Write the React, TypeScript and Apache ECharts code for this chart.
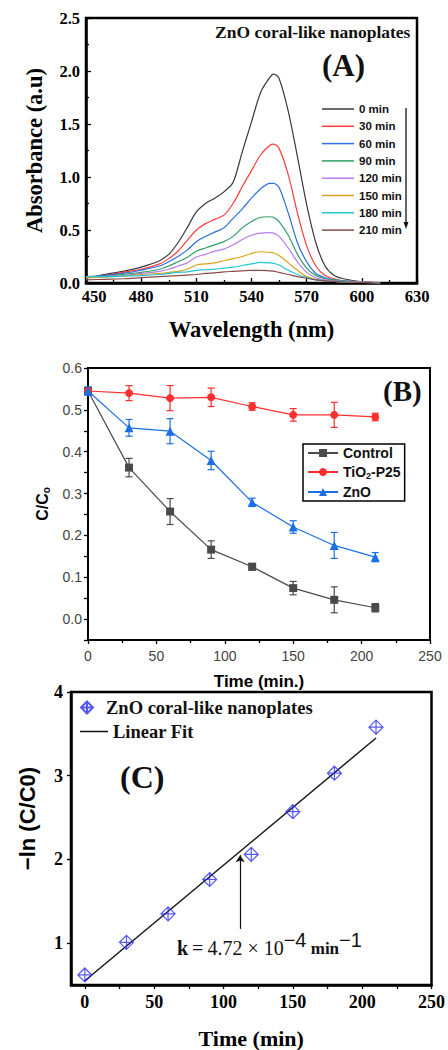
import React, { useEffect, useRef } from "react";
import * as echarts from "echarts";

// ---------- Panel A: UV-vis spectra ----------
const WAVELENGTH = [450, 460, 470, 480, 490, 495, 500, 505, 510, 515, 520, 525, 530, 535, 540, 545, 550, 552, 555, 560, 565, 570, 575, 580, 585, 590, 600, 610];
const ABS_0 = [0.045, 0.08, 0.11, 0.15, 0.21, 0.27, 0.38, 0.52, 0.67, 0.75, 0.8, 0.86, 0.95, 1.24, 1.52, 1.8, 1.94, 1.97, 1.93, 1.62, 1.19, 0.74, 0.38, 0.16, 0.07, 0.04, 0.01, 0.0];
const ABS_30 = [0.05, 0.07, 0.1, 0.13, 0.18, 0.23, 0.3, 0.4, 0.5, 0.56, 0.6, 0.64, 0.75, 0.91, 1.06, 1.21, 1.3, 1.31, 1.27, 1.02, 0.66, 0.35, 0.16, 0.07, 0.04, 0.02, 0.01, 0.0];
const ABS_60 = [0.06, 0.07, 0.09, 0.12, 0.16, 0.2, 0.25, 0.31, 0.39, 0.44, 0.48, 0.52, 0.61, 0.7, 0.8, 0.89, 0.94, 0.94, 0.9, 0.66, 0.38, 0.2, 0.09, 0.05, 0.03, 0.02, 0.01, 0.0];
const ABS_90 = [0.05, 0.06, 0.08, 0.1, 0.13, 0.16, 0.2, 0.24, 0.3, 0.33, 0.36, 0.39, 0.44, 0.52, 0.58, 0.62, 0.625, 0.62, 0.58, 0.45, 0.27, 0.14, 0.07, 0.04, 0.03, 0.02, 0.01, 0.0];
const ABS_120 = [0.05, 0.06, 0.07, 0.09, 0.11, 0.13, 0.16, 0.19, 0.245, 0.27, 0.3, 0.32, 0.36, 0.41, 0.45, 0.47, 0.475, 0.47, 0.44, 0.33, 0.2, 0.1, 0.05, 0.03, 0.02, 0.015, 0.01, 0.0];
const ABS_150 = [0.05, 0.055, 0.065, 0.08, 0.09, 0.1, 0.11, 0.13, 0.17, 0.18, 0.19, 0.21, 0.23, 0.25, 0.28, 0.295, 0.29, 0.285, 0.26, 0.19, 0.12, 0.06, 0.035, 0.02, 0.015, 0.01, 0.005, 0.0];
const ABS_180 = [0.06, 0.06, 0.065, 0.07, 0.08, 0.09, 0.1, 0.105, 0.12, 0.125, 0.13, 0.14, 0.15, 0.165, 0.18, 0.195, 0.19, 0.185, 0.17, 0.12, 0.08, 0.05, 0.03, 0.02, 0.015, 0.01, 0.005, 0.0];
const ABS_210 = [0.03, 0.035, 0.04, 0.05, 0.06, 0.065, 0.07, 0.075, 0.08, 0.09, 0.095, 0.105, 0.11, 0.115, 0.12, 0.12, 0.115, 0.112, 0.1, 0.08, 0.06, 0.045, 0.03, 0.02, 0.015, 0.01, 0.005, 0.0];
const SPECTRA_NAMES = ["0 min", "30 min", "60 min", "90 min", "120 min", "150 min", "180 min", "210 min"];
const SPECTRA_COLORS = ["#3a3a3a", "#ff3b3b", "#2c6fe0", "#2f9e62", "#b77df0", "#d9a21a", "#22c6d8", "#8b4a4a"];

// ---------- Panel B: C/C0 vs time ----------
const TIME_B = [0, 30, 60, 90, 120, 150, 180, 210];
const CONTROL = [0.545, 0.362, 0.257, 0.166, 0.125, 0.074, 0.046, 0.027];
const CONTROL_ERR = [0, 0.022, 0.031, 0.021, 0.008, 0.016, 0.031, 0.01];
const TIO2 = [0.545, 0.54, 0.528, 0.53, 0.508, 0.488, 0.488, 0.483];
const TIO2_ERR = [0, 0.018, 0.03, 0.022, 0.009, 0.015, 0.03, 0.009];
const ZNO = [0.545, 0.457, 0.449, 0.379, 0.279, 0.22, 0.176, 0.148];
const ZNO_ERR = [0.01, 0.02, 0.03, 0.022, 0.01, 0.015, 0.031, 0.011];
const B_Y_LABELS = [0, 0.1, 0.2, 0.3, 0.4, 0.5, 0.6];
const B_Y_TICKS = [-0.05, 0, 0.05, 0.1, 0.15, 0.2, 0.25, 0.3, 0.35, 0.4, 0.45, 0.5, 0.55, 0.6];

// ---------- Panel C: -ln(C/C0) vs time ----------
const TIME_C = [0, 30, 60, 90, 120, 150, 180, 210];
const LN_C = [0.62, 1.01, 1.35, 1.76, 2.06, 2.57, 3.03, 3.58];
const FIT_X = [0, 210];
const FIT_Y = [0.55, 3.45];
const ARROW_X = 112;
const ARROW_Y = [1.17, 2.05];
const C_X_LABELS = [0, 50, 100, 150, 200, 250];
const C_X_TICKS = [0, 25, 50, 75, 100, 125, 150, 175, 200, 225, 250];
const C_Y_LABELS = [1, 2, 3, 4];

const SERIF = "'Liberation Serif', 'Times New Roman', serif";
const SANS = "'Liberation Sans', Arial, sans-serif";
const DIAMOND_CROSS = "path://M0,-10L10,0L0,10L-10,0Z M0,-10L0,10 M-10,0L10,0";

function errorBars(name: string, xs: number[], ys: number[], errs: number[], color: string) {
  return {
    type: "custom",
    name,
    xAxisIndex: 1,
    yAxisIndex: 1,
    z: 3,
    silent: true,
    data: xs.map((x, i) => [x, ys[i], errs[i]]),
    encode: { x: 0, y: 1 },
    renderItem: (_p: any, api: any) => {
      const x = api.value(0);
      const y = api.value(1);
      const e = api.value(2);
      if (!e) return { type: "group", children: [] };
      const t = api.coord([x, y + e]);
      const b = api.coord([x, y - e]);
      const w = 3.5;
      const st = { stroke: color, lineWidth: 1.2 };
      return {
        type: "group",
        children: [
          { type: "line", shape: { x1: t[0], y1: t[1], x2: b[0], y2: b[1] }, style: st },
          { type: "line", shape: { x1: t[0] - w, y1: t[1], x2: t[0] + w, y2: t[1] }, style: st },
          { type: "line", shape: { x1: b[0] - w, y1: b[1], x2: b[0] + w, y2: b[1] }, style: st },
        ],
      };
    },
  };
}

function buildOption() {
  const spectra = [ABS_0, ABS_30, ABS_60, ABS_90, ABS_120, ABS_150, ABS_180, ABS_210];
  const tickStyle = { color: "#000", width: 1.3 };
  const aLabelFont = { fontFamily: SERIF, fontWeight: "bold", fontSize: 16.5, color: "#000" };

  const seriesA = spectra.map((arr, k) => ({
    type: "line",
    name: SPECTRA_NAMES[k],
    xAxisIndex: 0,
    yAxisIndex: 0,
    smooth: 0.3,
    symbol: "none",
    showSymbol: false,
    lineStyle: { color: SPECTRA_COLORS[k], width: 1.2 },
    itemStyle: { color: SPECTRA_COLORS[k] },
    data: WAVELENGTH.map((w, i) => [w, arr[i]]),
  }));

  const bLine = (name: string, ys: number[], color: string, symbol: string, size: number) => ({
    type: "line",
    name,
    xAxisIndex: 1,
    yAxisIndex: 1,
    z: 4,
    symbol,
    symbolSize: size,
    lineStyle: { color, width: 1.2 },
    itemStyle: { color },
    data: TIME_B.map((t, i) => [t, ys[i]]),
  });

  return {
    animation: false,
    backgroundColor: "#fff",
    grid: [
      { left: 86, right: 31, top: 18, height: 265, show: true, borderColor: "#000", borderWidth: 2.5, backgroundColor: "transparent" },
      { left: 88, right: 18, top: 368, height: 272, show: true, borderColor: "#000", borderWidth: 2, backgroundColor: "transparent" },
      { left: 71, right: 15, top: 692, height: 295, show: true, borderColor: "#000", borderWidth: 2.5, backgroundColor: "transparent" },
    ],
    xAxis: [
      {
        type: "value", gridIndex: 0, min: 450, max: 630, interval: 30,
        axisLine: { show: true, onZero: false, lineStyle: { color: "#000", width: 2.5 } },
        axisTick: { show: true, inside: true, length: 5, lineStyle: tickStyle },
        minorTick: { show: true, splitNumber: 2, length: 3, lineStyle: tickStyle },
        splitLine: { show: false },
        axisLabel: {
          ...aLabelFont,
          margin: 5,
          formatter: (v: number) => (v === 450 ? "{first|" + v + "}" : "{reg|" + v + "}"),
          rich: {
            first: { ...aLabelFont, padding: [0, 0, 0, 16] },
            reg: { ...aLabelFont },
          },
        },
        name: "Wavelength (nm)", nameLocation: "middle", nameGap: 35,
        nameTextStyle: { fontFamily: SERIF, fontWeight: "bold", fontSize: 22.5, color: "#000" },
      },
      {
        type: "value", gridIndex: 1, min: 0, max: 250, interval: 50,
        axisLine: { show: true, onZero: false, lineStyle: { color: "#000", width: 2 } },
        axisTick: { show: true, inside: false, length: 4, lineStyle: tickStyle },
        minorTick: { show: true, splitNumber: 2, length: 3, lineStyle: tickStyle },
        splitLine: { show: false },
        axisLabel: { fontFamily: SANS, fontSize: 14, color: "#444", margin: 9 },
        name: "Time (min.)", nameLocation: "middle", nameGap: 33,
        nameTextStyle: { fontFamily: SANS, fontWeight: "bold", fontSize: 17, color: "#000" },
      },
      {
        type: "value", gridIndex: 2, min: -10, max: 250,
        axisLine: { show: true, onZero: false, lineStyle: { color: "#000", width: 2.5 } },
        axisTick: { show: true, inside: false, length: 4, lineStyle: tickStyle, customValues: C_X_TICKS },
        splitLine: { show: false },
        axisLabel: { fontFamily: SERIF, fontWeight: "bold", fontSize: 18, color: "#000", margin: 8, customValues: C_X_LABELS },
        name: "Time (min)", nameLocation: "middle", nameGap: 42,
        nameTextStyle: { fontFamily: SERIF, fontWeight: "bold", fontSize: 22, color: "#000" },
      },
    ],
    yAxis: [
      {
        type: "value", gridIndex: 0, min: 0, max: 2.5, interval: 0.5,
        axisLine: { show: true, onZero: false, lineStyle: { color: "#000", width: 2.5 } },
        axisTick: { show: true, inside: true, length: 5, lineStyle: tickStyle },
        minorTick: { show: true, splitNumber: 2, length: 3, lineStyle: tickStyle },
        splitLine: { show: false },
        axisLabel: { ...aLabelFont, margin: 6, formatter: (v: number) => v.toFixed(1) },
        name: "Absorbance (a.u)", nameLocation: "middle", nameGap: 40, nameRotate: 90,
        nameTextStyle: { fontFamily: SERIF, fontWeight: "bold", fontSize: 22.5, color: "#000" },
      },
      {
        type: "value", gridIndex: 1, min: -0.05, max: 0.6,
        axisLine: { show: true, onZero: false, lineStyle: { color: "#000", width: 2 } },
        axisTick: { show: true, inside: false, length: 4, lineStyle: tickStyle, customValues: B_Y_TICKS },
        splitLine: { show: false },
        axisLabel: { fontFamily: SANS, fontSize: 14, color: "#444", margin: 6, customValues: B_Y_LABELS, formatter: (v: number) => v.toFixed(1) },
        name: "{a|C/C}{s|o}", nameLocation: "middle", nameGap: 35, nameRotate: 90,
        nameTextStyle: {
          rich: {
            a: { fontFamily: SANS, fontWeight: "bold", fontSize: 16, color: "#000" },
            s: { fontFamily: SANS, fontWeight: "bold", fontSize: 10, color: "#000", padding: [8, 0, 0, 0] },
          },
        },
      },
      {
        type: "value", gridIndex: 2, min: 0.5, max: 4,
        axisLine: { show: true, onZero: false, lineStyle: { color: "#000", width: 2.5 } },
        axisTick: { show: true, inside: false, length: 4, lineStyle: tickStyle, customValues: C_Y_LABELS },
        splitLine: { show: false },
        axisLabel: { fontFamily: SERIF, fontWeight: "bold", fontSize: 18, color: "#000", margin: 8, customValues: C_Y_LABELS },
        name: "\u2212ln (C/C0)", nameLocation: "middle", nameGap: 33, nameRotate: 90,
        nameTextStyle: { fontFamily: SANS, fontWeight: "bold", fontSize: 22, color: "#000", padding: [0, 0, 0, 40] },
      },
    ],
    legend: [
      {
        data: SPECTRA_NAMES,
        orient: "vertical",
        left: 322,
        top: 103,
        icon: "rect",
        itemWidth: 32,
        itemHeight: 1.5,
        itemGap: 5.3,
        padding: 0,
        textStyle: { fontFamily: SANS, fontWeight: "bold", fontSize: 11.5, color: "#111" },
      },
      {
        data: ["Control", "TiO2-P25", "ZnO"],
        orient: "vertical",
        left: 303,
        top: 444,
        itemWidth: 30,
        itemHeight: 10,
        itemGap: 5,
        padding: [2, 4, 2, 4],
        borderColor: "#000",
        borderWidth: 1.5,
        backgroundColor: "#fff",
        formatter: (name: string) => (name === "TiO2-P25" ? "{t|TiO}{s|2}{t|-P25}" : "{t|" + name + "}"),
        textStyle: {
          rich: {
            t: { fontFamily: SANS, fontWeight: "bold", fontSize: 14, color: "#111", lineHeight: 15 },
            s: { fontFamily: SANS, fontWeight: "bold", fontSize: 9, color: "#111", padding: [7, 0, 0, 0] },
          },
        },
      },
      {
        data: ["ZnO coral-like nanoplates"],
        orient: "vertical",
        left: 80,
        top: 698,
        itemWidth: 28,
        itemHeight: 12,
        padding: 0,
        textStyle: { fontFamily: SERIF, fontWeight: "bold", fontSize: 18.5, color: "#111" },
      },
      {
        data: ["Linear Fit"],
        orient: "vertical",
        left: 80,
        top: 722,
        icon: "rect",
        itemWidth: 28,
        itemHeight: 1.5,
        padding: 0,
        textStyle: { fontFamily: SERIF, fontWeight: "bold", fontSize: 18.5, color: "#111" },
      },
    ],
    series: [
      ...seriesA,
      errorBars("Control err", TIME_B, CONTROL, CONTROL_ERR, "#4a4a4a"),
      errorBars("TiO2 err", TIME_B, TIO2, TIO2_ERR, "#ff2f2f"),
      errorBars("ZnO err", TIME_B, ZNO, ZNO_ERR, "#1b6fe6"),
      bLine("Control", CONTROL, "#4a4a4a", "rect", 8),
      bLine("TiO2-P25", TIO2, "#ff2f2f", "circle", 8),
      bLine("ZnO", ZNO, "#1b6fe6", "triangle", 9),
      {
        type: "line",
        name: "Linear Fit",
        xAxisIndex: 2,
        yAxisIndex: 2,
        symbol: "none",
        showSymbol: false,
        lineStyle: { color: "#111", width: 1.4 },
        itemStyle: { color: "#111" },
        data: FIT_X.map((x, i) => [x, FIT_Y[i]]),
        markLine: {
          silent: true,
          symbol: ["none", "arrow"],
          symbolSize: 7,
          label: { show: false },
          lineStyle: { color: "#111", width: 1.2, type: "solid" },
          data: [[{ coord: [ARROW_X, ARROW_Y[0]] }, { coord: [ARROW_X, ARROW_Y[1]] }]],
        },
      },
      {
        type: "scatter",
        name: "ZnO coral-like nanoplates",
        xAxisIndex: 2,
        yAxisIndex: 2,
        z: 5,
        symbol: DIAMOND_CROSS,
        symbolKeepAspect: true,
        symbolSize: 14,
        itemStyle: { color: "rgba(0,0,0,0)", borderColor: "#2a2ef0", borderWidth: 1.2 },
        data: TIME_C.map((t, i) => [t, LN_C[i]]),
      },
    ],
    graphic: [
      {
        type: "text", left: 215, top: 23,
        style: { text: "ZnO coral-like nanoplates", fontFamily: SERIF, fontWeight: "bold", fontSize: 17.5, fill: "#111" },
      },
      {
        type: "text", left: 322, top: 50,
        style: { text: "(A)", fontFamily: SERIF, fontWeight: "bold", fontSize: 31, fill: "#111" },
      },
      { type: "line", shape: { x1: 406, y1: 108, x2: 406, y2: 226 }, style: { stroke: "#111", lineWidth: 1.3 } },
      { type: "polygon", shape: { points: [[403.5, 222], [408.5, 222], [406, 229]] }, style: { fill: "#111" } },
      {
        type: "text", left: 383, top: 376,
        style: { text: "(B)", fontFamily: SERIF, fontWeight: "bold", fontSize: 29, fill: "#111" },
      },
      {
        type: "text", left: 120, top: 761,
        style: { text: "(C)", fontFamily: SERIF, fontWeight: "bold", fontSize: 32, fill: "#111" },
      },
      {
        type: "text", left: 177, top: 930,
        style: {
          text: "{k|k}{n|\u2009=\u20094.72 \u00d7 10}{sup|\u22124}{m| min}{sup|\u22121}",
          rich: {
            k: { fontFamily: SERIF, fontWeight: "bold", fontSize: 20, fill: "#111", lineHeight: 24 },
            n: { fontFamily: SERIF, fontSize: 20, fill: "#111", lineHeight: 24 },
            m: { fontFamily: SERIF, fontWeight: "bold", fontSize: 17, fill: "#111", lineHeight: 24 },
            sup: { fontFamily: SANS, fontSize: 20, fill: "#111", lineHeight: 24, padding: [0, 0, 16, 0] },
          },
        },
      },
    ],
  };
}

export default function App() {
  const ref = useRef<HTMLDivElement>(null);
  useEffect(() => {
    const chart = echarts.init(ref.current!, null, { renderer: "svg" });
    chart.setOption(buildOption() as any);
    return () => chart.dispose();
  }, []);
  return (
    <div
      ref={ref}
      style={{ position: "absolute", left: 0, top: 0, width: 448, height: 1050, background: "#fff" }}
    />
  );
}
